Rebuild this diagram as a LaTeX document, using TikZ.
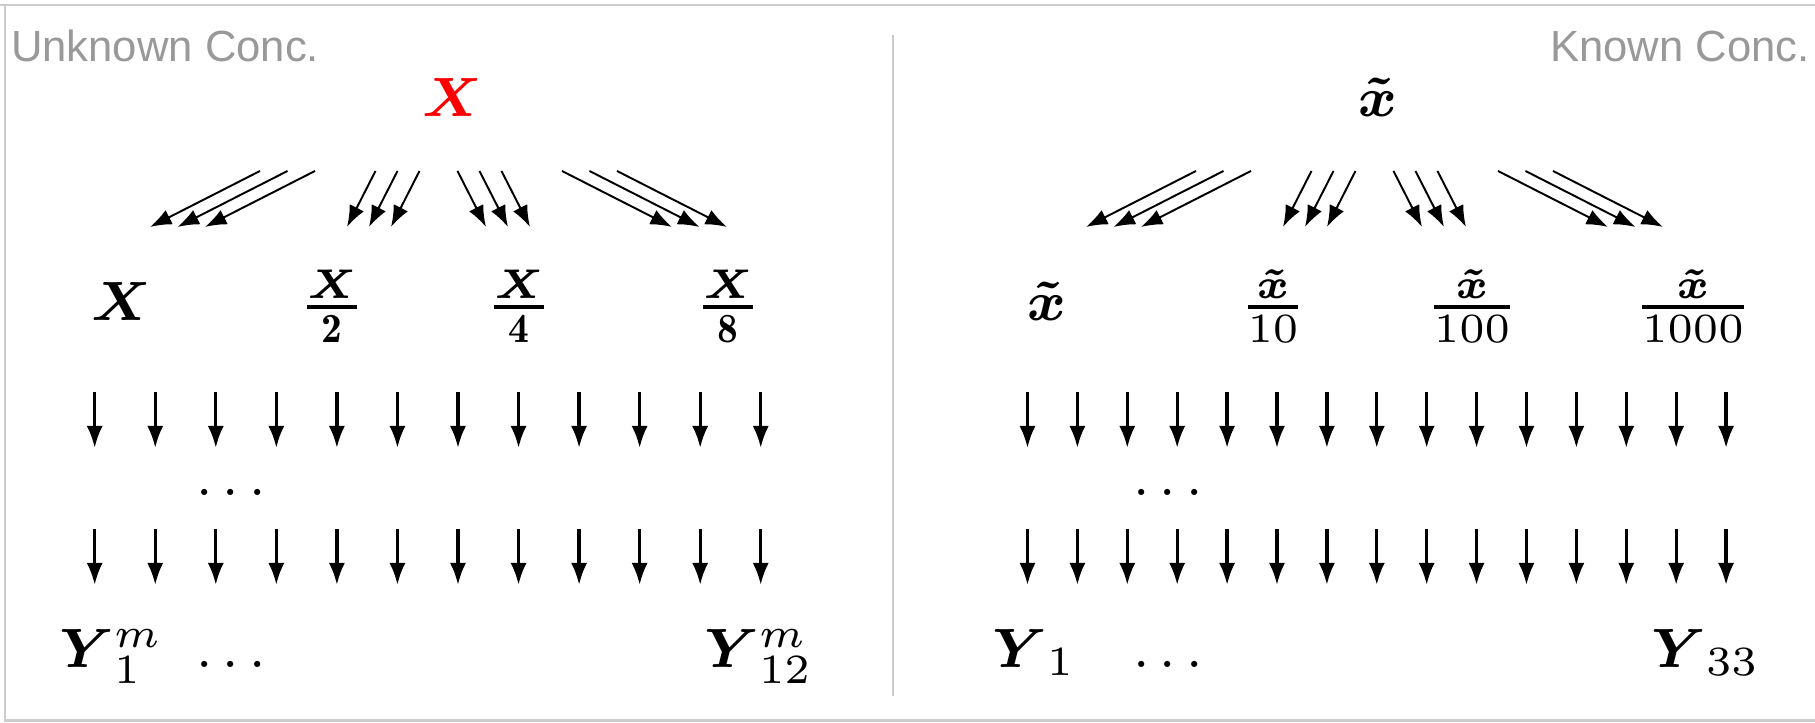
\documentclass[tikz,border=0pt]{standalone}
\usepackage{amsmath}
\usepackage{amssymb}
\usepackage{fontspec}
\usepackage{tikz}
\usetikzlibrary{arrows.meta}

\newfontfamily\concfont{Liberation Sans}
\definecolor{boxgray}{HTML}{CCCCCC}
\definecolor{concgray}{HTML}{999999}
\newcommand{\dil}[2]{\genfrac{}{}{0.55pt}{}{#1}{#2}}

\tikzset{
    conc/.style={inner sep=0pt, text=concgray, font=\fontsize{6.3}{7.5}\selectfont\concfont},
    var/.style={inner sep=0pt, anchor=base},
    fan/.style={line width=0.28pt, -{Latex[length=3.1pt,width=2.3pt]}},
    drop/.style={line width=0.47pt, -{Latex[length=3.2pt,width=2.35pt]}}
}

\begin{document}
\begin{tikzpicture}[x=0.5075cm,y=0.5075cm,font=\fontsize{8}{9.5}\selectfont]
    \useasboundingbox (0,0) rectangle (18.15,7.23);
    % frame and divider
    \draw[boxgray, line width=0.35pt] (0,7.18) -- (18.15,7.18);
    \draw[boxgray, line width=0.43pt] (0.05,7.18) -- (0.05,0.02) -- (18.15,0.02);
    \draw[boxgray, line width=0.43pt] (8.93,6.88) -- (8.93,0.27);

    \node[conc, anchor=base west] (unk) at (0.097,6.61) {Unknown Conc.};
    \node[conc, anchor=base east] (kn) at (18.11,6.61) {Known Conc.};

    % sources
    \node[var, text=red] (srcL) at (4.52,6.06) {$\boldsymbol{X}$};
    \node[var] (srcR) at (13.78,6.06) {$\boldsymbol{\tilde{x}}$};

    % three arrows to each dilution
    \coordinate (fanL) at (4.385,5.52);
    \coordinate (fanR) at (13.745,5.52);
    \foreach \c in {fanL,fanR}
        \foreach \s/\e/\d in {-1.785/-2.885/0.275,-0.63/-0.915/0.22}
            \foreach \i in {0,1,2} {
                \pgfmathsetmacro{\a}{\s+\d*\i}
                \pgfmathsetmacro{\b}{\e+\d*\i}
                \pgfmathsetmacro{\ma}{-(\s+\d*\i)}
                \pgfmathsetmacro{\mb}{-(\e+\d*\i)}
                \draw[fan] ([shift={(\a,0)}]\c) -- ([shift={(\b,-0.56)}]\c);
                \draw[fan] ([shift={(\ma,0)}]\c) -- ([shift={(\mb,-0.56)}]\c);
            }

    % dilutions
    \node[var] (dL0) at (1.21,4.02) {$\boldsymbol{X}$};
    \node[var] (dL1) at (3.32,4.02) {$\dil{\boldsymbol{X}}{\mathbf{2}}$};
    \node[var] (dL2) at (5.19,4.02) {$\dil{\boldsymbol{X}}{\mathbf{4}}$};
    \node[var] (dL3) at (7.28,4.02) {$\dil{\boldsymbol{X}}{\mathbf{8}}$};
    \node[var] (dR0) at (10.47,4.02) {$\boldsymbol{\tilde{x}}$};
    \node[var] (dR1) at (12.73,4.02) {$\dil{\boldsymbol{\tilde{x}}}{10}$};
    \node[var] (dR2) at (14.72,4.02) {$\dil{\boldsymbol{\tilde{x}}}{100}$};
    \node[var] (dR3) at (16.93,4.02) {$\dil{\boldsymbol{\tilde{x}}}{1000}$};

    % wells
    \foreach \y in {3.31,1.94} {
        \foreach \i in {0,...,11}
            \draw[drop] (0.947+0.6055*\i,\y) -- ++(0,-0.56);
        \foreach \i in {0,...,14}
            \draw[drop] (10.275+0.499*\i,\y) -- ++(0,-0.56);
    }
    \node[var, anchor=center] (gapL) at (2.36,2.31) {$\dots$};
    \node[var, anchor=center] (gapR) at (11.73,2.31) {$\dots$};

    % readouts
    \node[var, anchor=base west] (yL1) at (0.58,0.55) {$\boldsymbol{Y}^m_1$};
    \node[var] (yLdots) at (2.36,0.55) {$\dots$};
    \node[var, anchor=base west] (yL12) at (7.03,0.55) {$\boldsymbol{Y}^m_{12}$};
    \node[var, anchor=base west] (yR1) at (9.91,0.55) {$\boldsymbol{Y}_1$};
    \node[var] (yRdots) at (11.73,0.55) {$\dots$};
    \node[var, anchor=base west] (yR33) at (16.5,0.55) {$\boldsymbol{Y}_{33}$};
\end{tikzpicture}
\end{document}
